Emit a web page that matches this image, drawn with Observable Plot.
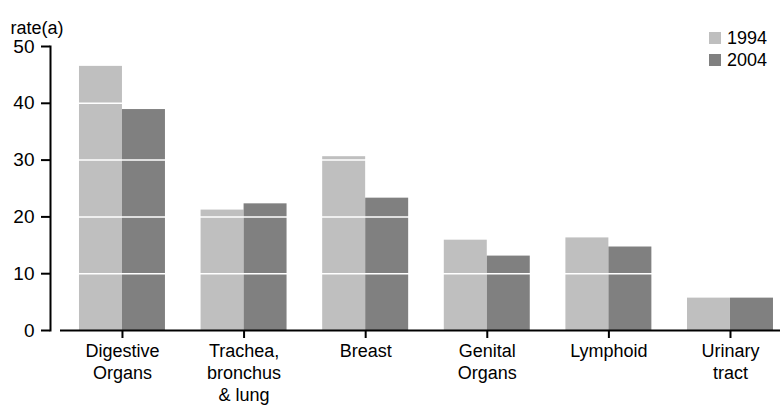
<!DOCTYPE html>
<html>
<head>
<meta charset="utf-8">
<script src="https://cdn.jsdelivr.net/npm/d3@7"></script>
<script src="https://cdn.jsdelivr.net/npm/@observablehq/plot@0.6"></script>
<style>
  html, body { margin: 0; padding: 0; background: #fff; }
  #wrap { position: relative; width: 780px; height: 408px; font-family: "Liberation Sans", Arial, sans-serif; }
  #legend { position: absolute; left: 709px; top: 27px; }
  #legend .sw { display: flex; align-items: center; height: 22px; font-size: 18px; color: #000; }
  #legend .sw span.box { width: 12px; height: 12px; margin-right: 6px; display: inline-block; }
</style>
</head>
<body>
<div id="wrap"></div>
<script>
const categories = ["Digestive\nOrgans", "Trachea,\nbronchus\n& lung", "Breast", "Genital\nOrgans", "Lymphoid", "Urinary\ntract"];
const years = ["1994", "2004"];
const rate1994 = [46.5, 21.2, 30.6, 15.9, 16.3, 5.7];
const rate2004 = [38.9, 22.3, 23.3, 13.1, 14.7, 5.7];
const yTicks = [0, 10, 20, 30, 40, 50];
const gridTicks = [10, 20, 30, 40];
const colors = ["#bfbfbf", "#808080"];

const d1994 = categories.map((c, i) => ({category: c, year: years[0], value: rate1994[i]}));
const d2004 = categories.map((c, i) => ({category: c, year: years[1], value: rate2004[i]}));

const chart = Plot.plot({
  width: 780,
  height: 408,
  marginTop: 46,
  marginBottom: 78,
  marginLeft: 50,
  marginRight: 0,
  style: {fontFamily: "'Liberation Sans', Arial, sans-serif", fontSize: "18px", color: "#000", background: "#fff"},
  x: {domain: categories, paddingInner: 0.293, paddingOuter: 0.148, align: 0.805, round: false},
  y: {domain: [0, 50]},
  color: {domain: years, range: colors},
  marks: [
    Plot.barY(d1994, {x: "category", y: "value", fill: "year", insetRight: 43}),
    Plot.barY(d2004, {x: "category", y: "value", fill: "year", insetLeft: 43}),
    Plot.gridY(gridTicks, {stroke: "white", strokeOpacity: 1, strokeWidth: 1.5, insetLeft: 2}),
    Plot.ruleY([0], {insetLeft: 10, stroke: "black", strokeWidth: 2}),
    Plot.frame({anchor: "left", stroke: "black", strokeWidth: 2}),
    Plot.axisY({ticks: yTicks, tickSize: 9, tickPadding: 7, strokeWidth: 2, label: null, fontSize: 19}),
    Plot.axisX({tickSize: 8, tickPadding: 3, strokeWidth: 2, label: null, fontSize: 18, lineHeight: 1.22}),
    Plot.text(["rate(a)"], {frameAnchor: "top-left", textAnchor: "start", lineAnchor: "bottom", dx: -40, dy: -13, fontSize: 18})
  ]
});

const wrap = document.getElementById("wrap");
wrap.appendChild(chart);

const legend = document.createElement("div");
legend.id = "legend";
years.forEach((y, i) => {
  const row = document.createElement("div");
  row.className = "sw";
  const box = document.createElement("span");
  box.className = "box";
  box.style.background = chart.scale("color").apply(y);
  row.appendChild(box);
  row.appendChild(document.createTextNode(y));
  legend.appendChild(row);
});
wrap.appendChild(legend);
</script>
</body>
</html>
